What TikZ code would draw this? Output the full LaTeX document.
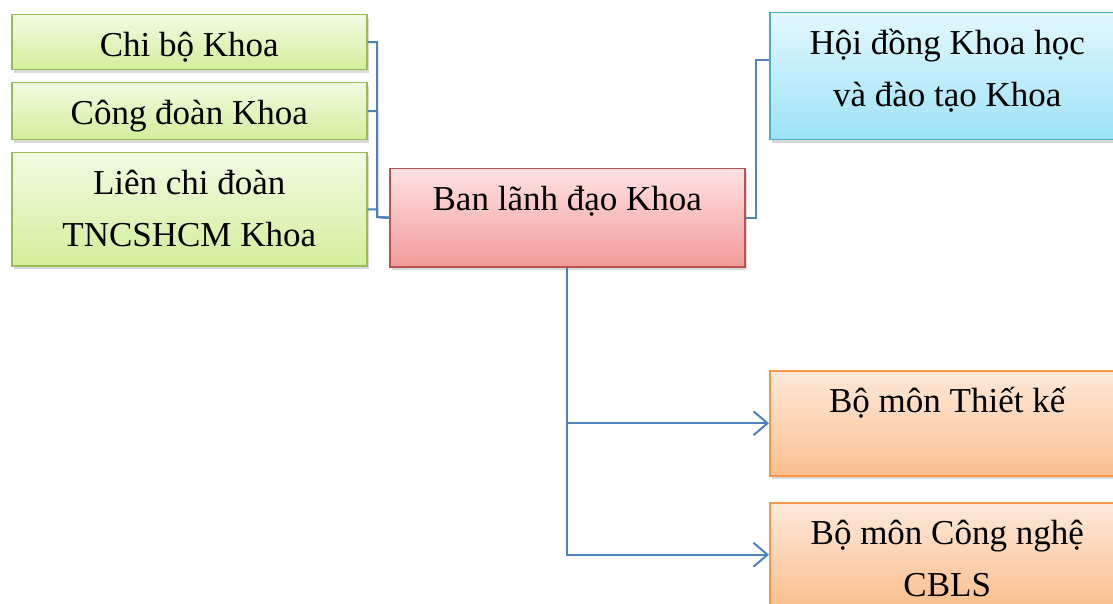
\documentclass[tikz,border=0pt]{standalone}
\usepackage{fontspec}
\setmainfont{Liberation Serif}
\usetikzlibrary{positioning}
\usetikzlibrary{shadows}
\usetikzlibrary{arrows.meta}
\definecolor{doanline}{HTML}{9BBB59}
\definecolor{doantop}{HTML}{F1FBE2}
\definecolor{doanbot}{HTML}{D3EE9B}
\definecolor{banline}{HTML}{C0504D}
\definecolor{bantop}{HTML}{FFE2E2}
\definecolor{banbot}{HTML}{F29A9A}
\definecolor{hdline}{HTML}{4BACC6}
\definecolor{hdtop}{HTML}{E3F8FE}
\definecolor{hdbot}{HTML}{9DE2F7}
\definecolor{bmline}{HTML}{F79646}
\definecolor{bmtop}{HTML}{FDE9DA}
\definecolor{bmbot}{HTML}{FABF8F}
\definecolor{linkblue}{HTML}{4F81BD}
\tikzset{
	unit/.style={rectangle, draw, line width=1.5pt, inner xsep=0pt, inner ysep=0pt,
		text width=355pt, align=flush center, anchor=north west, text height=42pt,
		font=\fontsize{35}{52}\selectfont, shading=axis,
		drop shadow={shadow xshift=2pt, shadow yshift=-3pt, opacity=0.3}},
	doan/.style={unit, draw=doanline, top color=doantop, bottom color=doanbot},
	lanhdao/.style={unit, draw=banline, top color=bantop, bottom color=banbot},
	hoidong/.style={unit, draw=hdline, top color=hdtop, bottom color=hdbot},
	bomon/.style={unit, draw=bmline, top color=bmtop, bottom color=bmbot},
	link/.style={draw=linkblue, line width=2pt},
	arr/.style={link, -{Straight Barb[length=14pt,width=24pt]}}
}

\begin{document}
\begin{tikzpicture}[x=1pt,y=1pt]
	\useasboundingbox (0,0) rectangle (1113,-604);
	
	\node[doan, text depth=13pt] (chibo) at (11,-14) {Chi bộ Khoa};
	\node[doan, text depth=15pt] (congdoan) at (11,-82) {Công đoàn Khoa};
	\node[doan, text depth=71pt] (lienchi) at (11,-152) {Liên chi đoàn\\TNCSHCM Khoa};
	
	\node[lanhdao, text depth=56pt] (ban) at (389,-168) {Ban lãnh đạo Khoa};
	\node[hoidong, text depth=85pt] (hoidong) at (769,-12) {Hội đồng Khoa học\\và đào tạo Khoa};
	
	\node[bomon, text depth=63pt] (thietke) at (769,-370) {Bộ môn Thiết kế};
	\node[bomon, text depth=62pt] (congnghe) at (769,-502) {Bộ môn Công nghệ\\CBLS};
	
	\coordinate (jl) at (377,-217);
	\coordinate (jr) at (756,-60);
	
	\foreach \g in {chibo,congdoan,lienchi}
		\draw[link] (\g.east) -| (jl) -- (ban.west);
	\draw[link] (ban.east) -| (jr) -- (jr -| hoidong.west);
	\draw[arr] (ban.south) |- (thietke.west);
	\draw[arr] (ban.south) |- (congnghe.west);
	
\end{tikzpicture}
\end{document}
